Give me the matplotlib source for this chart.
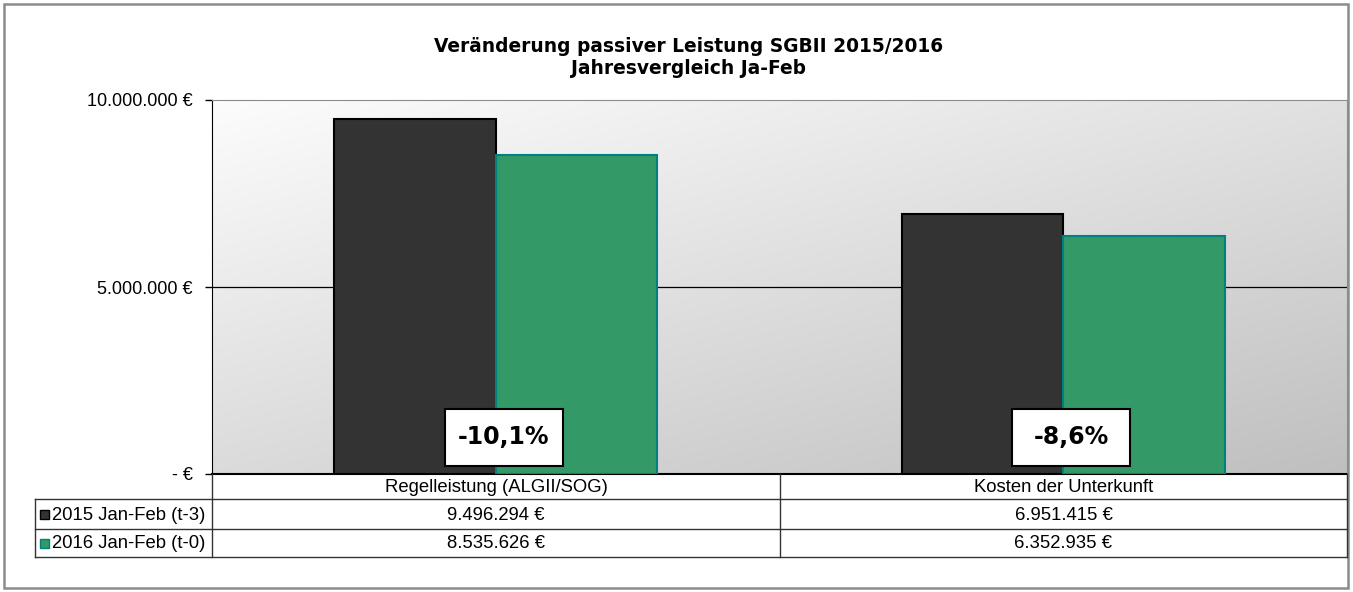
import matplotlib
matplotlib.use("Agg")
import matplotlib.pyplot as plt
import numpy as np
from matplotlib.patches import Rectangle
from matplotlib.lines import Line2D

categories = ["Regelleistung (ALGII/SOG)", "Kosten der Unterkunft"]
series_names = ["2015 Jan-Feb (t-3)", "2016 Jan-Feb (t-0)"]
values_2015 = [9496294, 6951415]
values_2016 = [8535626, 6352935]
yticks = [0, 5000000, 10000000]
ytick_labels = ["- €", "5.000.000 €", "10.000.000 €"]
title = "Veränderung passiver Leistung SGBII 2015/2016\nJahresvergleich Ja-Feb"

def fmt_eur(v):
    return f"{v:,.0f}".replace(",", ".") + " €"

def fmt_pct(a, b):
    return f"{(b / a - 1) * 100:.1f}%".replace(".", ",")

W, H = 1353, 592
fig = plt.figure(figsize=(W / 100, H / 100), dpi=100)
plt.rcParams['font.family'] = ['Liberation Sans', 'DejaVu Sans']

def fx(px):
    return px / W

def fy(py):
    return 1 - py / H

# outer border
fig.patches.append(Rectangle((fx(4), fy(588)), fx(1348) - fx(4), fy(4) - fy(588),
                             transform=fig.transFigure, fill=False, edgecolor="#8c8c8c", lw=1.8))

left, right, top, bottom = 212, 1347, 100, 474
ax = fig.add_axes([fx(left), fy(bottom), fx(right) - fx(left), fy(top) - fy(bottom)])

# gradient background: white top-left -> gray bottom-right
n = 256
xx, yy = np.meshgrid(np.linspace(0, 1, n), np.linspace(0, 1, n))
t = np.clip(0.45 * xx + 0.55 * yy, 0, 1)
c0, c1 = 0.99, 0.75
img = c0 + (c1 - c0) * t
ax.imshow(np.dstack([img, img, img]), extent=[0, 1, 0, 1], transform=ax.transAxes,
          aspect="auto", zorder=0, origin="upper")

x = np.arange(len(categories))
bw = 0.285
ax.bar(x - bw / 2, values_2015, width=bw, color="#333333", edgecolor="#000000", lw=1.5, zorder=3)
ax.bar(x + bw / 2, values_2016, width=bw, color="#339966", edgecolor="#008080", lw=1.5, zorder=3)

ax.set_xlim(-0.5, len(categories) - 0.5)
ax.set_ylim(0, 10000000)
ax.axhline(5000000, color="black", lw=0.9, zorder=2)
ax.set_yticks(yticks)
ax.set_yticklabels(ytick_labels, fontsize=13)
ax.tick_params(axis="y", direction="out", length=5, width=1, pad=9)
ax.set_xticks([])
for s in ["top", "right"]:
    ax.spines[s].set_color("#8c8c8c")
ax.spines["left"].set_color("black")
ax.spines["bottom"].set_color("black")
ax.spines["bottom"].set_linewidth(1.5)

# change labels in fixed-size boxes
box_w = 0.208
box_y0, box_y1 = 214000, 1738000
for i in range(len(categories)):
    cx = x[i] + 0.014
    ax.add_patch(Rectangle((cx - box_w / 2, box_y0), box_w, box_y1 - box_y0,
                           fc="white", ec="black", lw=1.5, zorder=5))
    ax.text(cx, (box_y0 + box_y1) / 2, fmt_pct(values_2015[i], values_2016[i]),
            ha="center", va="center", fontsize=17, fontweight="bold",
            family=["DejaVu Sans"], zorder=6)

fig.text(fx(689), fy(57), title, ha="center", va="center", fontsize=13.4,
         fontweight="bold", family=["DejaVu Sans"], linespacing=1.2)

# data table
tl = 35
rows_y = [474, 499, 529, 557]
col_x = [212, 780, 1347]
lc = "#333333"
def hline(y, x0, x1):
    fig.add_artist(Line2D([fx(x0), fx(x1)], [fy(y), fy(y)], color=lc, lw=1, transform=fig.transFigure))
def vline(xp, y0, y1):
    fig.add_artist(Line2D([fx(xp), fx(xp)], [fy(y0), fy(y1)], color=lc, lw=1, transform=fig.transFigure))

hline(rows_y[1], tl, col_x[2])
hline(rows_y[2], tl, col_x[2])
hline(rows_y[3], tl, col_x[2])
vline(tl, rows_y[1], rows_y[3])
vline(col_x[0], rows_y[0], rows_y[3])
vline(col_x[1], rows_y[0], rows_y[3])
vline(col_x[2], rows_y[0], rows_y[3])

fs_tab = 13.3
for j, cat in enumerate(categories):
    cx = (col_x[j] + col_x[j + 1]) / 2
    fig.text(fx(cx), fy((rows_y[0] + rows_y[1]) / 2 + 1), cat, ha="center", va="center",
             fontsize=fs_tab)
    for r, vals in enumerate([values_2015, values_2016]):
        fig.text(fx(cx), fy((rows_y[r + 1] + rows_y[r + 2]) / 2 + 1), fmt_eur(vals[j]),
                 ha="center", va="center", fontsize=fs_tab)

legend_styles = [("#333333", "#000000"), ("#339966", "#008080")]
for r, name in enumerate(series_names):
    cy = (rows_y[r + 1] + rows_y[r + 2]) / 2
    fig.patches.append(Rectangle((fx(40), fy(cy + 4.5)), fx(9), 9 / H, transform=fig.transFigure,
                                 fc=legend_styles[r][0], ec=legend_styles[r][1], lw=1))
    fig.text(fx(52), fy(cy + 1), name, ha="left", va="center", fontsize=fs_tab)

fig.savefig("out.png", dpi=100)
